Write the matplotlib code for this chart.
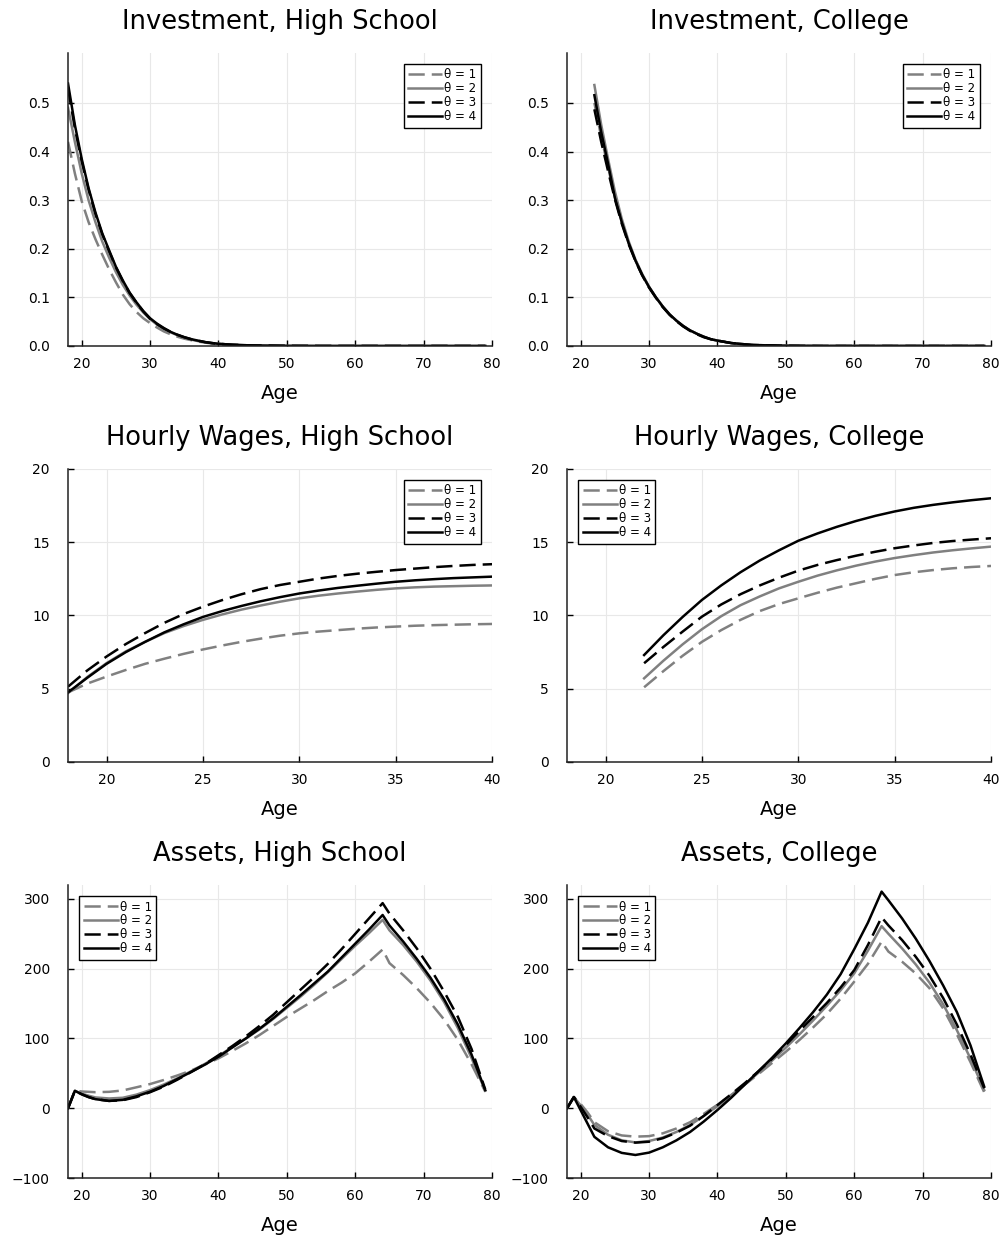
import matplotlib
matplotlib.use("Agg")
import matplotlib.pyplot as plt

# ---- data ----
labels = ["θ = 1", "θ = 2", "θ = 3", "θ = 4"]

inv_hs_age = list(range(18, 41)) + [42, 45, 50, 55, 60, 70, 79]
inv_hs_t1 = [.42, .355, .298, .255, .22, .188, .158, .131, .106, .086, .070, .057, .047, .038, .030,
             .024, .019, .015, .012, .009, .007, .005, .004, .002, .001, .0002, 0, 0, 0, 0]
inv_hs_t2 = [.49, .42, .355, .30, .255, .215, .182, .152, .126, .104, .085, .069, .055, .044, .035,
             .028, .022, .017, .013, .010, .008, .006, .0045, .0025, .001, .0002, 0, 0, 0, 0]
inv_hs_t3 = [.53, .448, .38, .322, .272, .23, .195, .162, .134, .109, .089, .071, .056, .045, .036,
             .029, .023, .018, .014, .011, .008, .006, .0045, .0025, .001, .0002, 0, 0, 0, 0]
inv_hs_t4 = [.54, .455, .385, .325, .275, .232, .197, .163, .135, .110, .090, .072, .057, .046, .037,
             .029, .023, .018, .014, .011, .008, .006, .0045, .0025, .001, .0002, 0, 0, 0, 0]

inv_col_age = list(range(22, 41)) + [42, 45, 50, 55, 60, 70, 79]
inv_col_t1 = [.50, .43, .368, .306, .256, .212, .176, .146, .121, .10, .081, .065, .052, .041, .032,
              .025, .019, .014, .011, .006, .002, .0004, 0, 0, 0, 0]
inv_col_t2 = [.537, .455, .385, .318, .262, .216, .178, .148, .122, .10, .081, .065, .052, .041, .032,
              .025, .019, .014, .011, .006, .002, .0004, 0, 0, 0, 0]
inv_col_t3 = [.487, .42, .36, .302, .252, .21, .175, .145, .12, .099, .08, .064, .051, .040, .031,
              .024, .018, .014, .011, .006, .002, .0004, 0, 0, 0, 0]
inv_col_t4 = [.516, .44, .375, .305, .255, .212, .176, .146, .121, .10, .081, .065, .052, .041, .032,
              .025, .019, .014, .011, .006, .002, .0004, 0, 0, 0, 0]

wage_hs_age = list(range(18, 41))
wage_hs_t1 = [4.75, 5.35, 5.83, 6.28, 6.7, 7.05, 7.38, 7.68, 7.95, 8.2, 8.42, 8.62, 8.78, 8.9, 9.0,
              9.1, 9.18, 9.24, 9.3, 9.34, 9.37, 9.4, 9.42]
wage_hs_t2 = [4.7, 5.8, 6.75, 7.55, 8.2, 8.8, 9.28, 9.7, 10.07, 10.4, 10.68, 10.94, 11.17, 11.35,
              11.5, 11.63, 11.75, 11.85, 11.92, 11.97, 12.0, 12.03, 12.05]
wage_hs_t3 = [5.14, 6.25, 7.2, 8.05, 8.8, 9.5, 10.1, 10.6, 11.05, 11.45, 11.8, 12.08, 12.3, 12.52,
              12.7, 12.85, 12.98, 13.1, 13.2, 13.3, 13.38, 13.45, 13.5]
wage_hs_t4 = [4.75, 5.75, 6.7, 7.5, 8.2, 8.85, 9.4, 9.9, 10.3, 10.65, 10.97, 11.25, 11.5, 11.7,
              11.88, 12.03, 12.17, 12.3, 12.4, 12.48, 12.55, 12.6, 12.65]

wage_col_age = list(range(22, 41))
wage_col_t1 = [5.1, 6.2, 7.25, 8.2, 9.0, 9.7, 10.3, 10.78, 11.17, 11.55, 11.9, 12.2, 12.5, 12.76,
               12.95, 13.1, 13.22, 13.31, 13.38]
wage_col_t2 = [5.71, 6.91, 8.03, 9.06, 9.95, 10.7, 11.3, 11.85, 12.3, 12.72, 13.08, 13.4, 13.68,
               13.92, 14.12, 14.3, 14.45, 14.58, 14.7]
wage_col_t3 = [6.74, 7.85, 8.9, 9.92, 10.75, 11.45, 12.05, 12.58, 13.06, 13.45, 13.78, 14.08, 14.35,
               14.59, 14.78, 14.95, 15.08, 15.18, 15.27]
wage_col_t4 = [7.3, 8.65, 9.9, 11.06, 12.05, 12.95, 13.75, 14.45, 15.1, 15.6, 16.05, 16.45, 16.8,
               17.1, 17.35, 17.55, 17.72, 17.87, 18.0]

asset_age = [18, 19, 20, 21, 22, 24, 26, 28, 30, 32, 34, 36, 38, 40, 42, 44, 46, 48, 50, 52, 54,
             56, 58, 60, 62, 64, 65, 67, 69, 71, 73, 75, 77, 79]
asset_hs_t1 = [0, 25, 24, 23.5, 23, 23.5, 25.5, 30, 34.7, 40.5, 47, 54, 62.5, 71.5, 82, 93, 105, 118,
               131, 143, 155, 168, 180, 193.4, 210, 227.5, 208, 191, 172, 151, 127, 98, 63, 24]
asset_hs_t2 = [0, 25, 21, 18, 15.5, 14, 15, 19.5, 26, 34, 43, 53, 63.5, 75, 87.5, 100, 113, 128,
               144, 160, 177, 195, 214, 233, 251, 270, 255, 234, 210, 183, 152, 115, 72, 25]
asset_hs_t3 = [0, 25, 20, 16, 13, 10.5, 11.5, 16, 23, 31, 41, 52, 63, 76, 89, 103, 118, 134,
               152, 170, 188, 207, 228, 250, 272, 294, 279, 255, 229, 200, 167, 131, 85, 27]
asset_hs_t4 = [0, 25, 20, 16, 13, 10.5, 12, 17, 23.7, 32, 42, 52, 62.5, 73.8, 87, 100, 114, 129,
               145.5, 162, 179, 196, 216, 236, 256, 277, 262, 239, 214, 187, 156, 120, 77, 26]

asset_col_t1 = [0, 16, 6, -6, -20, -33, -39, -40.7, -40, -36, -29, -20, -8, 5, 19, 34, 49, 65,
                81, 98, 116, 135, 157, 181.5, 207, 238.8, 224.5, 210, 193, 172, 143, 106, 66, 23]
asset_col_t2 = [0, 16, 4, -9, -24, -38, -46, -49, -47, -42, -34, -24, -11, 3, 18, 34, 51, 68.5,
                87, 106, 126, 147, 169, 193.4, 226, 261, 250, 229, 206, 180, 149, 112, 71, 26]
asset_col_t3 = [0, 16, 2, -13, -29, -40, -47, -49.3, -48, -43, -35, -25, -11, 4.7, 20, 36, 53, 71,
                90.7, 111, 131, 151, 173, 198, 234, 273.7, 262, 241, 217, 190, 158, 120, 77, 28.6]
asset_col_t4 = [0, 16, -3, -22, -41, -56, -64, -67, -63.6, -56, -46, -34, -19, -2.5, 15, 34, 53,
                72.5, 93, 115, 138, 163, 192, 228, 266, 310.5, 298, 272, 243, 211, 176, 138, 90, 31]

# ---- styles ----
colors = ["#808080", "#808080", "black", "black"]
dashed = [True, False, True, False]
LW = 1.8
DASH = (0, (6.5, 2.8))

plt.rcParams["font.family"] = "DejaVu Sans"


def panel(ax, ages, series, title, xlim, xticks, ylim, yticks, loc):
    for vals, c, d, lab in zip(series, colors, dashed, labels):
        ax.plot(ages, vals, color=c, lw=LW, linestyle=DASH if d else "-", label=lab)
    ax.set_xlim(*xlim)
    ax.set_ylim(*ylim)
    ax.set_xticks(xticks)
    ax.set_yticks(yticks)
    ax.grid(True, color="#e8e8e8", lw=0.8)
    ax.set_axisbelow(True)
    for s in ["top", "right"]:
        ax.spines[s].set_visible(False)
    for s in ["left", "bottom"]:
        ax.spines[s].set_linewidth(1.1)
        ax.spines[s].set_color("#222222")
    ax.tick_params(axis="both", direction="in", length=4, width=1, labelsize=10)
    ax.tick_params(axis="y", pad=13)
    ax.tick_params(axis="x", pad=8)
    ax.set_title(title, fontsize=18.5, pad=17)
    ax.set_xlabel("Age", fontsize=14, labelpad=9)
    leg = ax.legend(loc=loc, fontsize=8.6, handlelength=2.9, handletextpad=0.15,
                    labelspacing=0.08, borderpad=0.35, borderaxespad=0.95,
                    fancybox=False, framealpha=1, edgecolor="black")
    leg.get_frame().set_linewidth(1.0)


fig = plt.figure(figsize=(10.05, 12.4), dpi=100)
lefts = [0.0677, 0.5642]
bottoms = [0.7210, 0.3855, 0.0500]
W, H = 0.4219, 0.2363
axs = [[fig.add_axes([l, b, W, H]) for l in lefts] for b in bottoms]

panel(axs[0][0], inv_hs_age, [inv_hs_t1, inv_hs_t2, inv_hs_t3, inv_hs_t4],
      "Investment, High School", (18, 80), range(20, 81, 10), (0, 0.603),
      [0, .1, .2, .3, .4, .5], "upper right")
panel(axs[0][1], inv_col_age, [inv_col_t1, inv_col_t2, inv_col_t3, inv_col_t4],
      "Investment, College", (18, 80), range(20, 81, 10), (0, 0.603),
      [0, .1, .2, .3, .4, .5], "upper right")
panel(axs[1][0], wage_hs_age, [wage_hs_t1, wage_hs_t2, wage_hs_t3, wage_hs_t4],
      "Hourly Wages, High School", (18, 40), range(20, 41, 5), (0, 20),
      range(0, 21, 5), "upper right")
panel(axs[1][1], wage_col_age, [wage_col_t1, wage_col_t2, wage_col_t3, wage_col_t4],
      "Hourly Wages, College", (18, 40), range(20, 41, 5), (0, 20),
      range(0, 21, 5), "upper left")
panel(axs[2][0], asset_age, [asset_hs_t1, asset_hs_t2, asset_hs_t3, asset_hs_t4],
      "Assets, High School", (18, 80), range(20, 81, 10), (-100, 320),
      range(-100, 301, 100), "upper left")
panel(axs[2][1], asset_age, [asset_col_t1, asset_col_t2, asset_col_t3, asset_col_t4],
      "Assets, College", (18, 80), range(20, 81, 10), (-100, 320),
      range(-100, 301, 100), "upper left")

fig.savefig("out.png", dpi=100)
